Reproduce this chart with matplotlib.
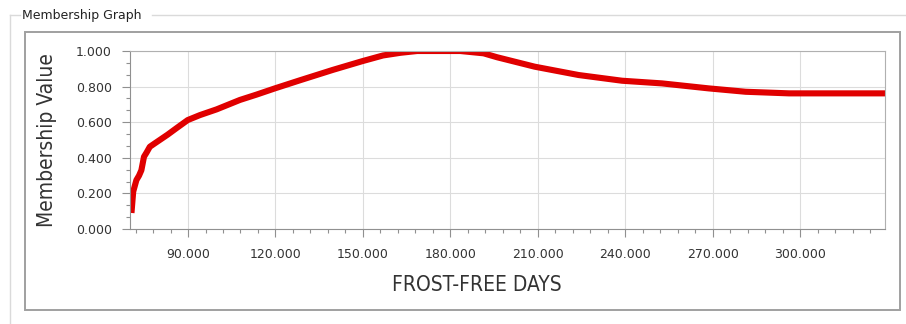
import matplotlib
matplotlib.use("Agg")
import matplotlib.pyplot as plt
from matplotlib.ticker import MultipleLocator, FormatStrFormatter
from matplotlib.patches import Rectangle

# membership curve, frost-free days vs membership value
days = [70.6, 71.2, 72.3, 73.2, 74.0, 74.9, 75.8, 76.9, 78.5, 80.3, 83.0,
        86.0, 89.9, 94.1, 99.8, 107.8, 113.5, 119.8, 128.3, 139.7, 149.8,
        156.9, 162.9, 168.6, 183.4, 191.4, 196.0, 208.9, 224.0, 238.9,
        252.6, 268.6, 281.3, 296.2, 329.5]
membership = [0.09, 0.21, 0.275, 0.30, 0.33, 0.406, 0.43, 0.462, 0.48, 0.50,
              0.53, 0.566, 0.612, 0.64, 0.672, 0.725, 0.755, 0.79, 0.835,
              0.894, 0.943, 0.975, 0.99, 1.0, 1.0, 0.987, 0.965, 0.912, 0.865,
              0.833, 0.818, 0.79, 0.771, 0.762, 0.762]

box_title = "Membership Graph"
x_title = "FROST-FREE DAYS"
y_title = "Membership Value"

W, H = 906, 324
fig = plt.figure(figsize=(W / 100, H / 100), dpi=100)
fig.patch.set_facecolor("white")

# frame drawn in pixel coords on a background axes
bg = fig.add_axes([0, 0, 1, 1])
bg.set_xlim(0, W)
bg.set_ylim(H, 0)
bg.axis("off")
bg.plot([10, 20], [15, 15], color="#dadada", lw=1)
bg.plot([152, W], [15, 15], color="#dadada", lw=1)
bg.plot([10, 10], [15, H], color="#dadada", lw=1)
bg.text(22, 15, box_title, fontsize=9, color="#222222", va="center", ha="left")
bg.add_patch(Rectangle((25, 32), 875, 278, fill=False, ec="#a0a0a0", lw=1.4))

ax = fig.add_axes([130 / W, 1 - 229 / H, 755 / W, 178 / H])
ax.plot(days, membership, color="#e00000", lw=4.4, solid_capstyle="butt")
ax.set_xlim(70.1, 329.1)
ax.set_ylim(0, 1)

ax.xaxis.set_major_locator(MultipleLocator(30))
ax.xaxis.set_minor_locator(MultipleLocator(6))
ax.yaxis.set_major_locator(MultipleLocator(0.2))
ax.yaxis.set_minor_locator(MultipleLocator(0.2 / 3))
ax.xaxis.set_major_formatter(FormatStrFormatter("%.3f"))
ax.yaxis.set_major_formatter(FormatStrFormatter("%.3f"))

ax.grid(True, which="major", color="#dcdcdc", lw=0.8)
ax.set_axisbelow(True)
for s in ["top", "right"]:
    ax.spines[s].set_color("#b0b0b0")
for s in ["left", "bottom"]:
    ax.spines[s].set_color("#909090")

ax.tick_params(which="major", length=6, width=0.8, color="#909090",
               labelsize=9, labelcolor="#333333")
ax.tick_params(which="minor", length=3, width=0.8, color="#909090")
ax.tick_params(axis="x", which="major", pad=8)
ax.tick_params(axis="y", which="major", pad=7)
# first labelled x tick is 90
ax.set_xticks([90, 120, 150, 180, 210, 240, 270, 300])

fig.text(477 / W, 1 - 285 / H, x_title, fontsize=15, color="#333333",
         ha="center", va="center", fontstretch="condensed",
         family=["Liberation Sans Narrow", "DejaVu Sans"])
fig.text(47 / W, 1 - 140 / H, y_title, fontsize=15, color="#333333",
         ha="center", va="center", rotation=90, fontstretch="condensed",
         family=["Liberation Sans Narrow", "DejaVu Sans"])

fig.savefig("out.png", dpi=100)
